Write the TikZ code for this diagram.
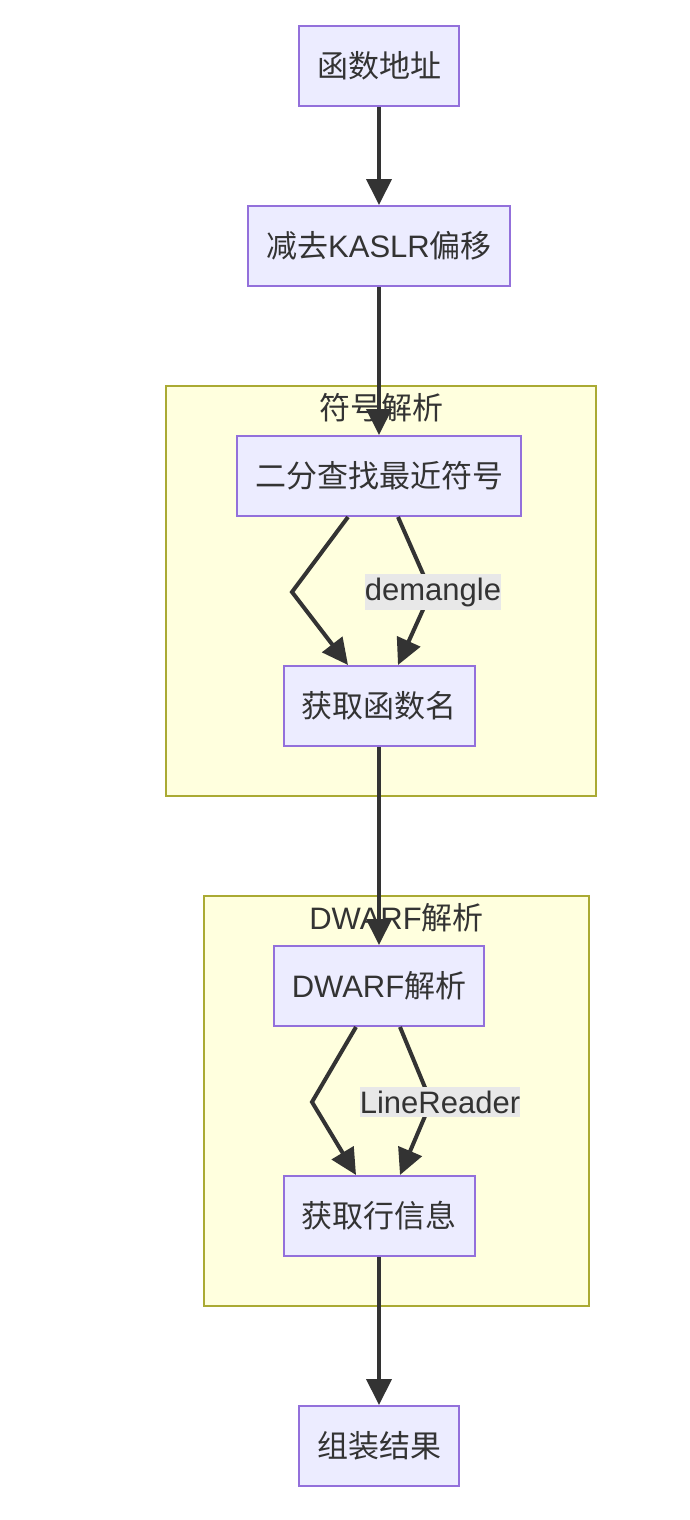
\documentclass[tikz,border=0pt]{standalone}
\usepackage{fontspec}
\setmainfont{Liberation Sans}
\newfontfamily\cjk{Noto Sans CJK SC}
\usetikzlibrary{arrows.meta}
\usetikzlibrary{positioning}
\definecolor{nodefill}{HTML}{ECECFF}
\definecolor{nodeline}{HTML}{9370DB}
\definecolor{groupfill}{HTML}{FFFFDE}
\definecolor{groupline}{HTML}{AAAA33}
\definecolor{ink}{HTML}{333333}
\definecolor{tagfill}{HTML}{E8E8E8}
\tikzset{
  box/.style = {draw = nodeline, fill = nodefill, line width = 1pt, minimum height = 40pt,
    inner xsep = 9pt, text = ink, font = \fontsize{15.5pt}{18pt}\selectfont},
  group/.style = {draw = groupline, fill = groupfill, line width = 1pt},
  grouplabel/.style = {text = ink, inner sep = 0pt, font = \fontsize{15.5pt}{18pt}\selectfont},
  flow/.style = {draw = ink, line width = 2pt, -{Triangle[length = 13pt, width = 12.5pt]}},
  tag/.style = {fill = tagfill, text = ink, inner xsep = 0pt, inner ysep = 2pt,
    font = \fontsize{15.5pt}{18pt}\selectfont},
  node distance = 115pt
}

\begin{document}
\begin{tikzpicture}[x = 0.5pt, y = -0.5pt]
  \useasboundingbox (0,0) rectangle (690,1520);
  % groups
  \draw [group] (166,386) rectangle (596,796);
  \draw [group] (204,896) rectangle (589,1306);
  \node [grouplabel] (symtitle) at (381,408) {{\cjk 符号解析}};
  \node [grouplabel] (dwarftitle) at (396.5,918) {DWARF{\cjk 解析}};
  % nodes
  \node [box] (addr) at (379,66) {{\cjk 函数地址}};
  \node [box, below of = addr, node distance = 90pt] (kaslr) {{\cjk 减去}KASLR{\cjk 偏移}};
  \node [box, below of = kaslr] (bsearch) {{\cjk 二分查找最近符号}};
  \node [box, below of = bsearch] (fname) {{\cjk 获取函数名}};
  \node [box, below of = fname, node distance = 140pt] (dwarf) {DWARF{\cjk 解析}};
  \node [box, below of = dwarf] (lineinfo) {{\cjk 获取行信息}};
  \node [box, below of = lineinfo] (result) {{\cjk 组装结果}};
  % paths
  \draw [flow] (addr) -- (kaslr);
  \draw [flow] (kaslr) -- (bsearch);
  \draw [flow] ([xshift = -15.5pt]bsearch.south) -- ++(-28pt,-37.5pt) -- ([xshift = -15.5pt]fname.north);
  \draw [flow] ([xshift = 9.5pt]bsearch.south) -- ++(16.5pt,-37.5pt)
    node [tag, xshift = 1pt] {demangle} -- ([xshift = 9.5pt]fname.north);
  \draw [flow] (fname) -- (dwarf);
  \draw [flow] ([xshift = -11.5pt]dwarf.south) -- ++(-22pt,-37.5pt) -- ([xshift = -11.5pt]lineinfo.north);
  \draw [flow] ([xshift = 10.5pt]dwarf.south) -- ++(15.5pt,-37.5pt)
    node [tag, xshift = 4.5pt] {LineReader} -- ([xshift = 10.5pt]lineinfo.north);
  \draw [flow] (lineinfo) -- (result);
\end{tikzpicture}
\end{document}
